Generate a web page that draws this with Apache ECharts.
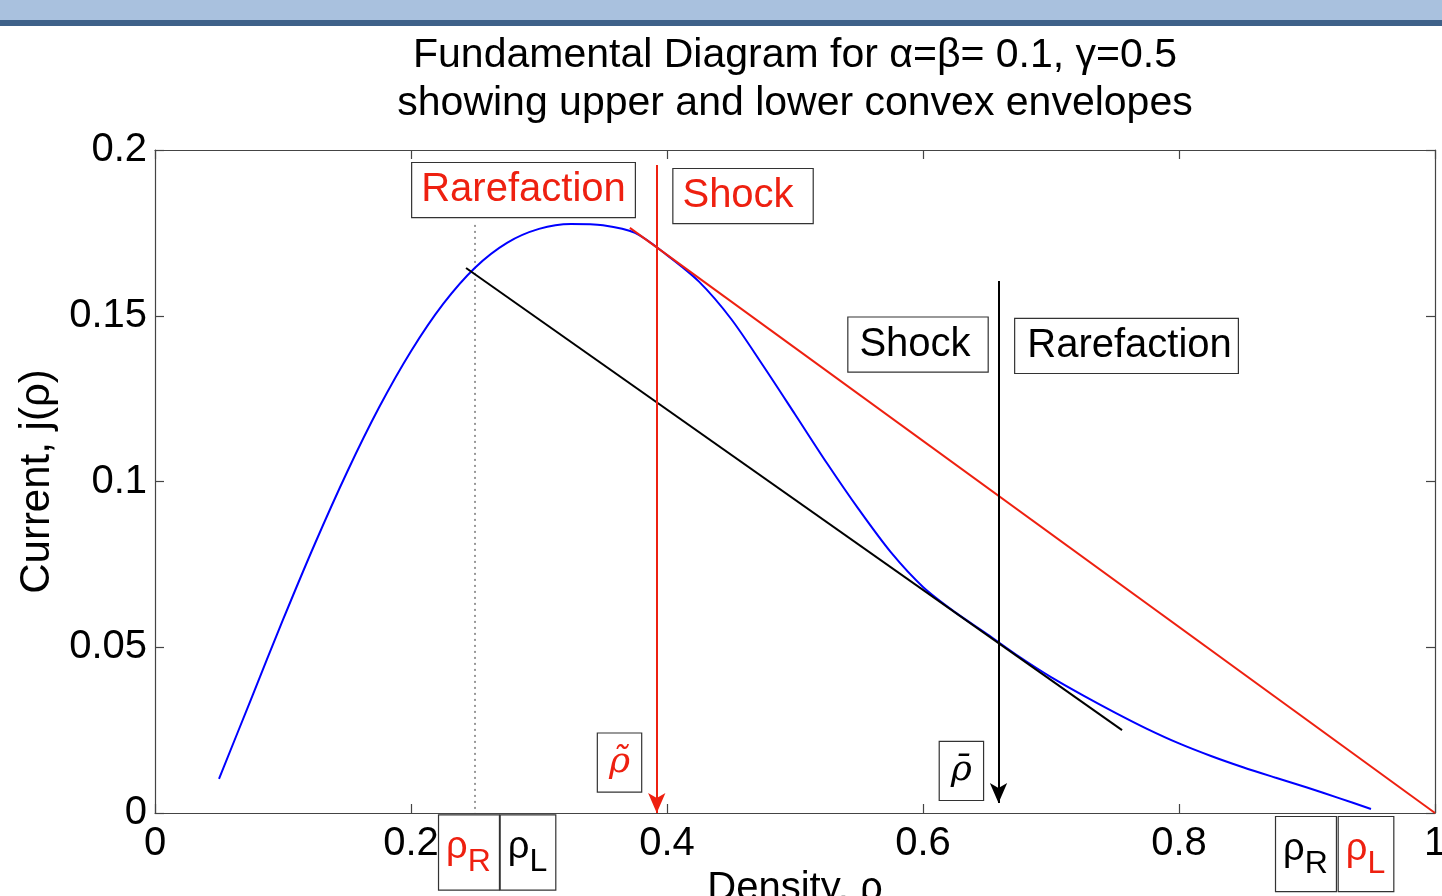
<!DOCTYPE html>
<html>
<head>
<meta charset="utf-8">
<script src="https://cdn.jsdelivr.net/npm/echarts@6/dist/echarts.min.js"></script>
<style>
html,body{margin:0;padding:0;background:#fff;}
#chart{width:1442px;height:896px;}
</style>
</head>
<body>
<div id="chart"></div>
<script>
// ---- data ----
const rho = [0.05,0.075,0.1,0.125,0.15,0.175,0.2,0.225,0.25,0.275,0.3,0.325,0.35,0.375,0.4,0.425,0.45,0.475,0.5,0.525,0.55,0.575,0.6,0.625,0.65,0.675,0.7,0.725,0.75,0.775,0.8,0.825,0.85,0.875,0.9,0.925,0.95];
const current = [0.0103,0.0343,0.0583,0.0813,0.1028,0.1223,0.1393,0.1535,0.1645,0.1720,0.1762,0.1777,0.1773,0.1750,0.1683,0.1603,0.1491,0.1350,0.1203,0.1055,0.0915,0.0786,0.0682,0.0606,0.0540,0.0472,0.0410,0.0355,0.0303,0.0254,0.0210,0.0172,0.0138,0.0107,0.0077,0.0045,0.0012];
const upperEnvRho = [0.371, 1.0];
const upperEnvJ = [0.1765, 0.0];
const lowerEnvRho = [0.243, 0.7555];
const lowerEnvJ = [0.1644, 0.025];
const dottedRho = [0.25, 0.25];
const dottedJ = [0.1774, 0.0];
const redArrowRho = [0.392, 0.392];
const redArrowJ = [0.1955, 0.0];
const blackArrowRho = [0.659, 0.659];
const blackArrowJ = [0.1605, 0.003];
const xTicks = [0, 0.2, 0.4, 0.6, 0.8, 1];
const yTicks = [0, 0.05, 0.1, 0.15, 0.2];
// text annotations (position in data units)
const boxText = ['Rarefaction', 'Shock', 'Shock', 'Rarefaction'];
const boxRho = [0.2879, 0.4594, 0.5961, 0.7590];
const boxJ = [0.1879, 0.1861, 0.1413, 0.1409];
const symText = ['ρ\u0303', 'ρ\u0304'];
const symRho = [0.3629, 0.6300];
const symJ = [0.0152, 0.0127];
const subText = ['R', 'L', 'R', 'L'];
const subRho = [0.2453, 0.2914, 0.8992, 0.9461];
const subJ = [-0.0119, -0.0119, -0.0124, -0.0124];

// ---- styles ----
const RED = '#ee2010';
const BLUE = '#0000ff';
const FONT = '"Liberation Sans", Arial, sans-serif';
const boxColors = [RED, RED, '#000', '#000'];
const boxPads = [[5, 9, 5, 9], [5, 19, 5, 9], [5, 17, 5, 11], [5, 6, 5, 12]];
const symColors = [RED, '#000'];
const subColors = [RED, '#000', '#000', RED];

const chart = echarts.init(document.getElementById('chart'), null, {renderer: 'canvas'});
const fmt = v => String(parseFloat(v.toFixed(3)));

const axisLineStyle = {color: '#444', width: 1.2};
const hidden = {color: 'rgba(0,0,0,0)', opacity: 1};

const option = {
  backgroundColor: '#fff',
  animation: false,
  title: {
    text: 'Fundamental Diagram for α=β= 0.1, γ=0.5\nshowing upper and lower convex envelopes',
    left: 795, top: 32, textAlign: 'center', padding: 0,
    textStyle: {fontFamily: FONT, fontSize: 41, fontWeight: 'normal', color: '#000', lineHeight: 48}
  },
  graphic: [
    {type: 'rect', shape: {x: 0, y: 0, width: 1442, height: 20}, style: {fill: '#a9c1de'}, silent: true},
    {type: 'rect', shape: {x: 0, y: 20, width: 1442, height: 6}, style: {fill: '#3e6189'}, silent: true}
  ],
  grid: {left: 155, right: 7, top: 150, bottom: 83, containLabel: false, outerBoundsMode: 'none'},
  xAxis: [
    {type: 'value', min: 0, max: 1, interval: 0.2, position: 'bottom',
     axisLine: {show: true, onZero: false, lineStyle: axisLineStyle},
     axisTick: {show: true, inside: true, length: 9, lineStyle: axisLineStyle},
     splitLine: {show: false},
     axisLabel: {show: true, fontFamily: FONT, fontSize: 40, color: '#000', margin: 11, formatter: fmt, showMinLabel: true, showMaxLabel: true},
     name: 'Density, ρ', nameLocation: 'middle', nameGap: 44,
     nameTextStyle: {fontFamily: FONT, fontSize: 40, color: '#000'}},
    {type: 'value', min: 0, max: 1, interval: 0.2, position: 'top',
     axisLine: {show: true, onZero: false, lineStyle: axisLineStyle},
     axisTick: {show: true, inside: true, length: 9, lineStyle: axisLineStyle},
     splitLine: {show: false}, axisLabel: {show: false}}
  ],
  yAxis: [
    {type: 'value', min: 0, max: 0.2, interval: 0.05, position: 'left',
     axisLine: {show: true, onZero: false, lineStyle: axisLineStyle},
     axisTick: {show: true, inside: true, length: 9, lineStyle: axisLineStyle},
     splitLine: {show: false},
     axisLabel: {show: true, fontFamily: FONT, fontSize: 40, color: '#000', margin: 8, formatter: fmt, showMinLabel: true, showMaxLabel: true},
     name: 'Current, j(ρ)', nameLocation: 'middle', nameGap: 86, nameRotate: 90,
     nameTextStyle: {fontFamily: FONT, fontSize: 42, color: '#000'}},
    {type: 'value', min: 0, max: 0.2, interval: 0.05, position: 'right',
     axisLine: {show: true, onZero: false, lineStyle: axisLineStyle},
     axisTick: {show: true, inside: true, length: 9, lineStyle: axisLineStyle},
     splitLine: {show: false}, axisLabel: {show: false}}
  ],
  series: [
    {type: 'line', name: 'j', data: rho.map((r, i) => [r, current[i]]), showSymbol: false,
     smooth: 0.3, lineStyle: {color: BLUE, width: 2}, z: 3},
    {type: 'line', name: 'dotted', data: dottedRho.map((r, i) => [r, dottedJ[i]]), showSymbol: false,
     lineStyle: {color: '#333', width: 1, type: [2, 4]}, z: 2},
    {type: 'line', name: 'lower', data: lowerEnvRho.map((r, i) => [r, lowerEnvJ[i]]), showSymbol: false,
     lineStyle: {color: '#000', width: 2}, z: 4},
    {type: 'line', name: 'upper', data: upperEnvRho.map((r, i) => [r, upperEnvJ[i]]), showSymbol: false,
     lineStyle: {color: RED, width: 2}, z: 4},
    {type: 'line', name: 'arrows', data: [], z: 5,
     markLine: {silent: true, symbol: ['none', 'arrow'], symbolSize: [13, 20], symbolOffset: [0, 0],
       label: {show: false}, animation: false,
       data: [
         [{coord: [redArrowRho[0], redArrowJ[0]], lineStyle: {color: RED, width: 2, type: 'solid'}, itemStyle: {color: RED}},
          {coord: [redArrowRho[1], redArrowJ[1]], lineStyle: {color: RED, width: 2, type: 'solid'}, itemStyle: {color: RED}}],
         [{coord: [blackArrowRho[0], blackArrowJ[0]], lineStyle: {color: '#000', width: 2, type: 'solid'}, itemStyle: {color: '#000'}},
          {coord: [blackArrowRho[1], blackArrowJ[1]], lineStyle: {color: '#000', width: 2, type: 'solid'}, itemStyle: {color: '#000'}}]
       ]}},
    {type: 'scatter', name: 'boxes', clip: false, symbolSize: 1, itemStyle: hidden, z: 6,
     data: boxText.map((t, i) => ({value: [boxRho[i], boxJ[i]],
       label: {show: true, position: 'inside', formatter: t, fontFamily: FONT, fontSize: 40, lineHeight: 44,
         color: boxColors[i], opacity: 1, textBorderWidth: 0, backgroundColor: '#fff', borderColor: '#333', borderWidth: 1.2, padding: boxPads[i]}}))},
    {type: 'scatter', name: 'symbols', clip: false, symbolSize: 1, itemStyle: hidden, z: 6,
     data: symText.map((t, i) => ({value: [symRho[i], symJ[i]],
       label: {show: true, position: 'inside', formatter: t, fontFamily: '"DejaVu Serif", serif', fontStyle: 'italic',
         fontSize: 36, lineHeight: 48, color: symColors[i], opacity: 1, textBorderWidth: 0, backgroundColor: '#fff', borderColor: '#333', borderWidth: 1.2,
         padding: [5, 11, 5, 11]}}))},
    {type: 'scatter', name: 'subs', clip: false, symbolSize: 1, itemStyle: hidden, z: 6,
     data: subText.map((t, i) => ({value: [subRho[i], subJ[i]],
       label: {show: true, position: 'inside', formatter: '{a|ρ}{b|' + t + '}', opacity: 1,
         backgroundColor: '#fff', borderColor: '#333', borderWidth: 1.2, padding: [6, 8, 6, 7],
         rich: {
           a: {fontFamily: FONT, fontSize: 38, color: subColors[i], lineHeight: 62, padding: [0, 0, 10, 0], textBorderWidth: 0},
           b: {fontFamily: FONT, fontSize: 32, color: subColors[i], lineHeight: 62, padding: [20, 0, 0, 0], textBorderWidth: 0}
         }}}))}
  ]
};
chart.setOption(option);
</script>
</body>
</html>
